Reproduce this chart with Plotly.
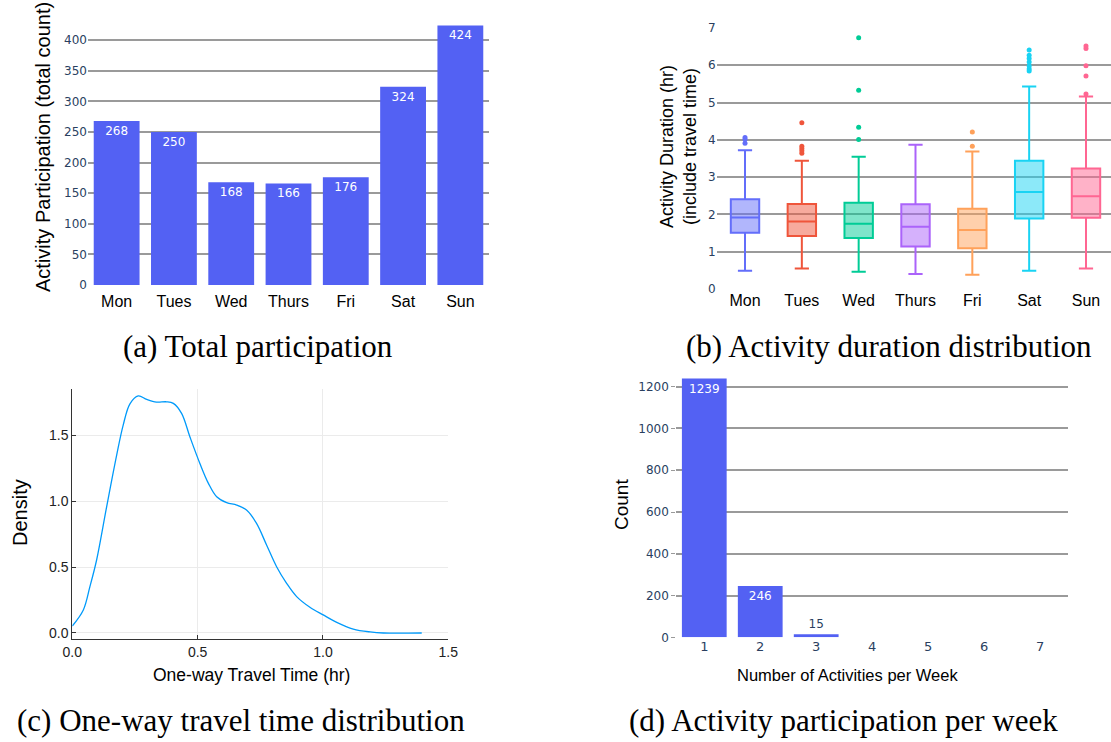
import plotly.graph_objects as go

W, H = 1111, 742

# ---------------- data ----------------
days = ["Mon", "Tues", "Wed", "Thurs", "Fri", "Sat", "Sun"]
participation = [268, 250, 168, 166, 176, 324, 424]

box_q1 = [1.51, 1.42, 1.37, 1.14, 1.09, 1.89, 1.91]
box_median = [1.92, 1.81, 1.75, 1.67, 1.58, 2.60, 2.49]
box_q3 = [2.41, 2.28, 2.31, 2.27, 2.15, 3.44, 3.23]
box_low = [0.49, 0.55, 0.46, 0.40, 0.38, 0.49, 0.55]
box_high = [3.72, 3.44, 3.55, 3.87, 3.69, 5.43, 5.16]
outliers = {
    "Mon": [3.91, 4.01, 4.06],
    "Tues": [3.64, 3.71, 3.77, 3.83, 4.46],
    "Wed": [4.01, 4.34, 5.33, 6.74],
    "Thurs": [],
    "Fri": [3.83, 4.21],
    "Sat": [5.85, 5.90, 5.98, 6.09, 6.18, 6.27, 6.41],
    "Sun": [5.23, 5.71, 5.99, 6.45, 6.52],
}
box_colors = ["#636efa", "#EF553B", "#00cc96", "#ab63fa", "#FFA15A", "#19d3f3", "#FF6692"]

travel_x = [0.0, 0.044, 0.07, 0.097, 0.137, 0.177, 0.203, 0.23, 0.263, 0.297, 0.336,
            0.376, 0.403, 0.436, 0.469, 0.509, 0.543, 0.576, 0.616, 0.656, 0.695,
            0.735, 0.775, 0.815, 0.855, 0.895, 0.948, 1.001, 1.055, 1.121, 1.188,
            1.241, 1.394]
travel_density = [0.053, 0.175, 0.35, 0.554, 0.958, 1.35, 1.578, 1.74, 1.80, 1.773, 1.753,
                  1.755, 1.743, 1.667, 1.49, 1.287, 1.136, 1.034, 0.989, 0.971, 0.933,
                  0.832, 0.668, 0.503, 0.377, 0.276, 0.195, 0.137, 0.081, 0.030, 0.008,
                  0.0, 0.0]

n_activities = ["1", "2", "3", "4", "5", "6", "7"]
n_counts = [1239, 246, 15, 0, 0, 0, 0]

captions = ["(a) Total participation", "(b) Activity duration distribution",
            "(c) One-way travel time distribution", "(d) Activity participation per week"]

# ---------------- helpers ----------------
def dx(p0, p1):
    return [p0 / W, min(p1 / W, 1.0)]

def dy(top, bottom):
    return [1 - bottom / H, 1 - top / H]

BAR = "#5361F3"
GRID = "#9a9a9a"
TICKC = "#2a3f5f"
SANS = "Liberation Sans, Arial, sans-serif"
TFONT = "DejaVu Sans, Verdana, sans-serif"

fig = go.Figure()

# (a) total participation
fig.add_trace(go.Bar(
    x=days, y=participation, text=[str(v) for v in participation],
    textposition="inside", insidetextanchor="end",
    textfont=dict(color="white", size=12, family=TFONT),
    marker=dict(color=BAR, line=dict(width=0)),
    xaxis="x", yaxis="y", showlegend=False))

# (b) duration boxes
for i, d in enumerate(days):
    fig.add_trace(go.Box(
        x=[d], q1=[box_q1[i]], median=[box_median[i]], q3=[box_q3[i]],
        lowerfence=[box_low[i]], upperfence=[box_high[i]],
        marker_color=box_colors[i], line=dict(width=2), width=0.5,
        boxpoints=False, xaxis="x2", yaxis="y2", showlegend=False))
    if outliers[d]:
        fig.add_trace(go.Scatter(
            x=[d] * len(outliers[d]), y=outliers[d], mode="markers",
            marker=dict(color=box_colors[i], size=5),
            xaxis="x2", yaxis="y2", showlegend=False))

# (c) travel time density
fig.add_trace(go.Scatter(
    x=travel_x, y=travel_density, mode="lines", line=dict(color="#009AFA", width=1.3, shape="spline"),
    xaxis="x3", yaxis="y3", showlegend=False))

# (d) activities per week
fig.add_trace(go.Bar(
    x=n_activities, y=n_counts, text=[str(v) if v > 0 else "" for v in n_counts],
    textposition="auto", insidetextanchor="end",
    insidetextfont=dict(color="white", size=12, family=TFONT),
    outsidetextfont=dict(color=TICKC, size=12, family=TFONT),
    marker=dict(color=BAR, line=dict(width=0)),
    cliponaxis=False,
    xaxis="x4", yaxis="y4", showlegend=False))

cat_x = dict(type="category", showgrid=False, zeroline=False, showline=False, ticks="",
             automargin=False, tickfont=dict(size=16, color="black", family=SANS))
val_y = dict(showgrid=True, gridcolor=GRID, gridwidth=1.5, zeroline=False, showline=False,
             automargin=False, ticks="", tickfont=dict(size=12, color=TICKC, family=TFONT))

fig.update_layout(
    width=W, height=H, margin=dict(l=0, r=0, t=0, b=0, pad=0, autoexpand=False),
    paper_bgcolor="white", plot_bgcolor="white", bargap=0.2, boxgap=0.5,
    xaxis=dict(cat_x, domain=dx(88, 489), range=[-0.5, 6.5], ticklabelstandoff=5),
    yaxis=dict(val_y, domain=dy(12, 285), range=[0, 446], dtick=50),
    xaxis2=dict(cat_x, domain=dx(716.6, 1114.4), range=[-0.5, 6.44], anchor="y2"),
    yaxis2=dict(val_y, domain=dy(28, 289), range=[0, 7], dtick=1, anchor="x2"),
    xaxis3=dict(domain=dx(72.3, 448.3), range=[0, 1.5], dtick=0.5, tickformat=".1f",
                showgrid=True, gridcolor="#ebebeb", gridwidth=1, zeroline=False, automargin=False,
                showline=True, linecolor="#333", linewidth=1, ticks="inside", ticklen=4,
                tickcolor="#333", tickfont=dict(size=14, color="#222", family=SANS), anchor="y3"),
    yaxis3=dict(domain=dy(389.3, 639.3), range=[-0.048, 1.85], dtick=0.5, tickformat=".1f",
                showgrid=True, gridcolor="#ebebeb", gridwidth=1, zeroline=False, automargin=False,
                showline=True, linecolor="#333", linewidth=1, ticks="inside", ticklen=4,
                tickcolor="#333", tickfont=dict(size=14, color="#222", family=SANS), anchor="x3"),
    xaxis4=dict(type="category", domain=dx(676.3, 1068), range=[-0.5, 6.5], showgrid=False,
                zeroline=False, showline=False, ticks="", automargin=False,
                tickfont=dict(size=13, color=TICKC, family=TFONT), anchor="y4"),
    yaxis4=dict(val_y, domain=dy(365, 637.3), range=[0, 1304], dtick=200, anchor="x4",
                ticks="outside", ticklen=4, tickcolor=GRID),
)

def ann(text, px, py, size, family=SANS, angle=0, color="black"):
    fig.add_annotation(text=text, x=px / W, y=1 - py / H, xref="paper", yref="paper",
                       xanchor="center", yanchor="middle", showarrow=False, textangle=angle,
                       font=dict(size=size, color=color, family=family))

ann("Activity Participation (total count)", 43, 147, 20, angle=-90)
ann("Activity Duration (hr)<br>(include travel time)", 678, 147, 18, angle=-90)
ann("Density", 20, 513, 20, angle=-90)
ann("One-way Travel Time (hr)", 251, 675, 17.5)
ann("Count", 621, 505, 19, angle=-90)
ann("Number of Activities per Week", 847, 675, 16.5)

SERIF = "Liberation Serif, DejaVu Serif, serif"
ann(captions[0], 258, 346, 31, family=SERIF)
ann(captions[1], 889, 346, 31, family=SERIF)
ann(captions[2], 241, 720, 31, family=SERIF)
ann(captions[3], 843, 720, 31, family=SERIF)

fig.write_html("out.html")
